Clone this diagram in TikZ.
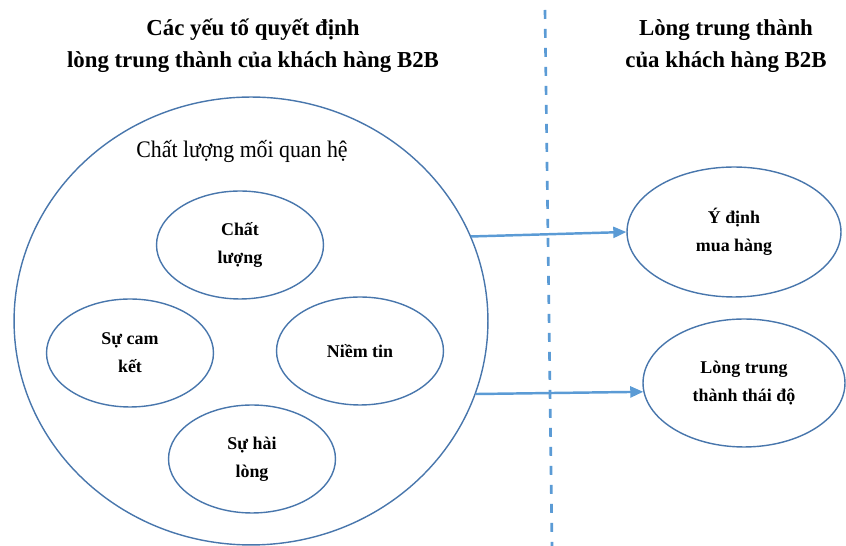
\documentclass[tikz,border=0pt]{standalone}
\usepackage{fontspec}
\setmainfont{Liberation Serif}
\usetikzlibrary{shapes.geometric,arrows.meta}

\definecolor{rimblue}{RGB}{72,118,172}
\definecolor{linkblue}{RGB}{91,155,213}

\tikzset{
  factor/.style={ellipse, draw=rimblue, line width=0.8pt, inner sep=0pt,
    minimum width=3.34cm, minimum height=2.16cm, align=center,
    font=\bfseries\fontsize{10.2}{15.9}\selectfont},
  heading/.style={align=center, font=\bfseries\fontsize{13}{18}\selectfont},
  link/.style={draw=linkblue, line width=1.4pt, -{Triangle[length=0.26cm,width=0.22cm]}},
  divider/.style={draw=linkblue, line width=1.5pt, dash pattern=on 0.18cm off 0.2cm}
}

\begin{document}
\begin{tikzpicture}[x=0.02cm, y=-0.02cm]
  \useasboundingbox (0,0) rectangle (846,546);

  % Titles
  \node[heading] (lefttitle) at (253,46) {Các yếu tố quyết định\\lòng trung thành của khách hàng B2B};
  \node[heading] (righttitle) at (726,46) {Lòng trung thành\\của khách hàng B2B};

  % Divider
  \coordinate (divtop) at (545,10);
  \coordinate (divbot) at (552,546);
  \draw[divider] (divtop) -- (divbot);

  % Relationship quality circle
  \node[ellipse, draw=rimblue, line width=0.8pt, minimum width=9.48cm, minimum height=8.96cm] (quality) at (251,321) {};
  \node[font=\fontsize{13.5}{16}\selectfont, xscale=0.92] (qualitylabel) at (242,151) {Chất lượng mối quan hệ};

  % Components
  \node[factor] (service) at (240,245) {Chất\\lượng};
  \node[factor] (commit) at (130,353) {Sự cam\\kết};
  \node[factor] (trust) at (360,351) {Niềm tin};
  \node[factor] (satisf) at (252,459) {Sự hài\\lòng};

  % Loyalty outcomes
  \node[factor, minimum width=4.28cm, minimum height=2.6cm] (intent) at (734,232) {Ý định\\mua hàng};
  \node[factor, minimum width=4.04cm, minimum height=2.56cm] (attitude) at (744,383) {Lòng trung\\thành thái độ};

  % Links
  \draw[link] (quality.21) -- (intent.west);
  \draw[link] (quality.-18) -- (attitude.185);
\end{tikzpicture}
\end{document}
